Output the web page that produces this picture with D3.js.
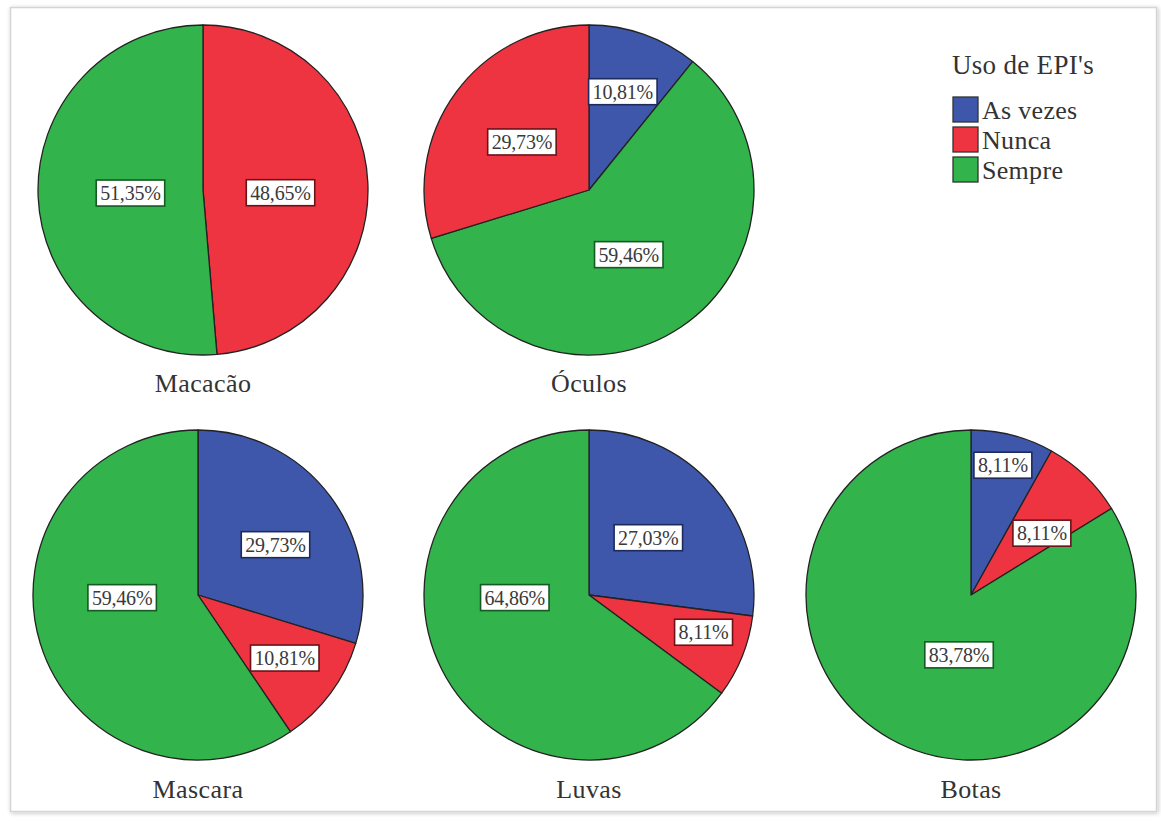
<!DOCTYPE html>
<html>
<head>
<meta charset="utf-8">
<script src="https://cdn.jsdelivr.net/npm/d3@7"></script>
<style>
  html, body { margin: 0; padding: 0; background: #fff; }
  svg { display: block; }
</style>
</head>
<body>
<svg id="chart" width="1161" height="821"></svg>
<script>
// Uso de EPI's — share of respondents per answer, one pie per item
const items = ["Macacão", "Óculos", "Mascara", "Luvas", "Botas"];
const categories = ["As vezes", "Nunca", "Sempre"];

// Slices of each pie, in clockwise drawing order from 12 o'clock
const macacaoSlices = [["Nunca", 48.65], ["Sempre", 51.35]];
const oculosSlices  = [["As vezes", 10.81], ["Sempre", 59.46], ["Nunca", 29.73]];
const mascaraSlices = [["As vezes", 29.73], ["Nunca", 10.81], ["Sempre", 59.46]];
const luvasSlices   = [["As vezes", 27.03], ["Nunca", 8.11], ["Sempre", 64.86]];
const botasSlices   = [["As vezes", 8.11], ["Nunca", 8.11], ["Sempre", 83.78]];
const sliceSets = [macacaoSlices, oculosSlices, mascaraSlices, luvasSlices, botasSlices];

const colors = ["#3f57ab", "#ee3440", "#32b34b"];
const strokes = ["#1d2a5c", "#6b1218", "#145a22"];

// Placement of each value label: [angle in degrees clockwise from 12 o'clock,
// distance as a fraction of the pie radius]
const labelPlacement = [
  [[92, 0.47], [267.6, 0.44]],
  [[19, 0.63], [148.4, 0.46], [305.6, 0.50]],
  [[57, 0.56], [126, 0.65], [268, 0.46]],
  [[46, 0.50], [108, 0.73], [268, 0.45]],
  [[13.8, 0.81], [48.9, 0.57], [191.3, 0.37]]
];

const svg = d3.select("#chart");
const serif = "'Liberation Serif', 'Times New Roman', serif";

// outer frame with soft shadow
const defs = svg.append("defs");
const f = defs.append("filter").attr("id", "shadow").attr("x", "-5%").attr("y", "-5%").attr("width", "110%").attr("height", "110%");
f.append("feGaussianBlur").attr("in", "SourceAlpha").attr("stdDeviation", 2);
f.append("feOffset").attr("dx", 1).attr("dy", 1).attr("result", "b");
f.append("feComponentTransfer").append("feFuncA").attr("type", "linear").attr("slope", 0.25);
const fm = f.append("feMerge");
fm.append("feMergeNode");
fm.append("feMergeNode").attr("in", "SourceGraphic");

svg.append("rect")
  .attr("x", 10.5).attr("y", 7.5).attr("width", 1146).attr("height", 804)
  .attr("fill", "#fff").attr("stroke", "#d4d4d4").attr("stroke-width", 1.5)
  .attr("filter", "url(#shadow)");

const color = d3.scaleOrdinal().domain(categories).range(colors);
const edge = d3.scaleOrdinal().domain(categories).range(strokes);

// centres of the five pies (column, row)
const colX = d3.scaleOrdinal().domain([0, 1, 2]).range([200, 589, 971]);
const rowY = d3.scaleOrdinal().domain([0, 1]).range([190, 595]);
const cells = [[0, 0], [1, 0], [0, 1], [1, 1], [2, 1]];
const R = 165;

const pie = d3.pie().sort(null).value(d => d[1]);
const arc = d3.arc().innerRadius(0).outerRadius(R);

sliceSets.forEach((slices, i) => {
  const [cx, cy] = cells[i];
  const x = colX(cx) + (i === 0 ? 3 : i === 2 ? -2 : 0);
  const y = rowY(cy);
  const g = svg.append("g").attr("transform", `translate(${x},${y})`);
  const arcs = pie(slices);

  g.selectAll("path").data(arcs).join("path")
    .attr("d", arc)
    .attr("fill", d => color(d.data[0]))
    .attr("stroke", "#222")
    .attr("stroke-width", 1.3)
    .attr("stroke-linejoin", "round");

  arcs.forEach((d, j) => {
    const [deg, frac] = labelPlacement[i][j];
    const a = deg * Math.PI / 180;
    const rr = R * frac;
    const lx = Math.sin(a) * rr, ly = -Math.cos(a) * rr;
    const txt = d3.format(".2f")(d.data[1]).replace(".", ",") + "%";
    const lg = g.append("g").attr("transform", `translate(${lx},${ly})`);
    const t = lg.append("text")
      .attr("text-anchor", "middle").attr("dy", "0.35em")
      .attr("font-family", serif)
      .attr("font-size", 20).attr("fill", "#3a3a3a")
      .attr("letter-spacing", -0.2)
      .text(txt);
    const bb = t.node().getBBox();
    lg.insert("rect", "text")
      .attr("x", bb.x - 4).attr("y", -13).attr("width", bb.width + 8).attr("height", 26)
      .attr("fill", "#fff").attr("stroke", edge(d.data[0])).attr("stroke-width", 1.6);
  });

  g.append("text")
    .attr("x", 0).attr("y", R + 29 - (cy === 0 ? 1 : 0))
    .attr("text-anchor", "middle").attr("dy", "0.35em")
    .attr("font-family", serif)
    .attr("font-size", 26).attr("fill", "#333")
    .attr("letter-spacing", 0.4)
    .text(items[i]);
});

// legend
const lgd = svg.append("g").attr("transform", "translate(952,0)");
lgd.append("text").attr("x", 0).attr("y", 74)
  .attr("font-family", serif)
  .attr("font-size", 27).attr("fill", "#333").attr("letter-spacing", 0.3)
  .text("Uso de EPI's");
categories.forEach((c, k) => {
  const yy = 97 + k * 30;
  lgd.append("rect").attr("x", 1).attr("y", yy).attr("width", 25).attr("height", 25)
    .attr("fill", color(c)).attr("stroke", "#333").attr("stroke-width", 1.3);
  lgd.append("text").attr("x", 30).attr("y", yy + 13).attr("dy", "0.35em")
    .attr("font-family", serif)
    .attr("font-size", 26).attr("fill", "#333").attr("letter-spacing", 0.3)
    .text(c);
});
</script>
</body>
</html>
